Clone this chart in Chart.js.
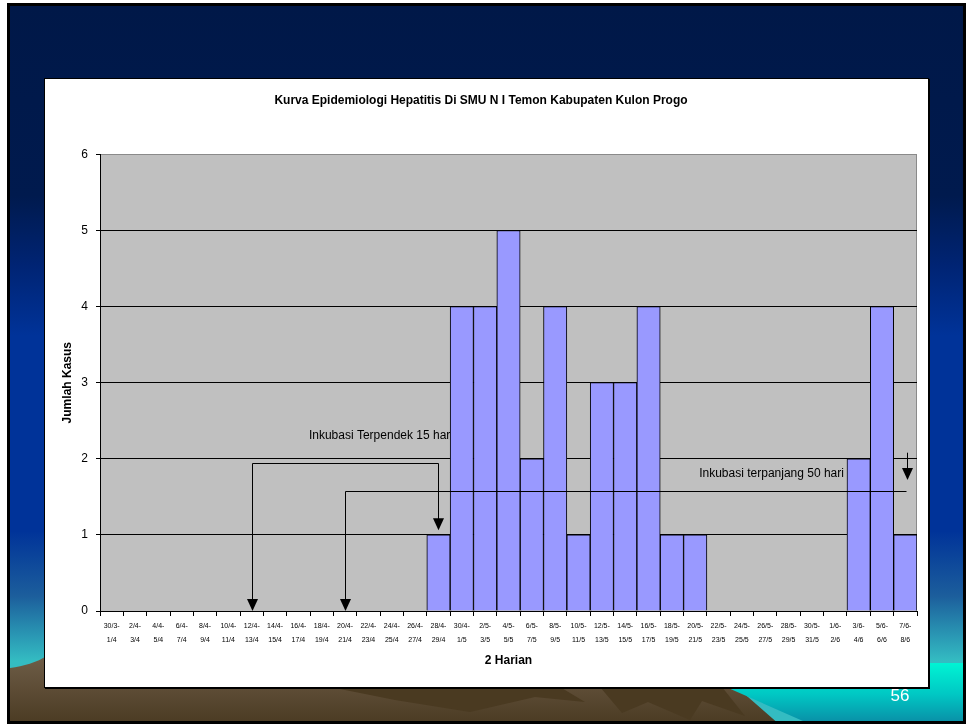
<!DOCTYPE html>
<html>
<head>
<meta charset="utf-8">
<script src="https://cdn.jsdelivr.net/npm/chart.js@4.4.0/dist/chart.umd.min.js"></script>
<style>
  html, body { margin: 0; padding: 0; background: #fff; width: 969px; height: 725px; overflow: hidden; }
  #slide {
    position: absolute; left: 7px; top: 3px; width: 959px; height: 721px;
    box-sizing: border-box; border: 3px solid #000; overflow: hidden;
    background: linear-gradient(to bottom,
      #001848 0px, #001a4e 190px, #002474 260px, #003399 330px,
      #003399 525px, #1c5e9c 590px, #2a98b4 630px, #34bcc2 655px);
  }
  #deco { position: absolute; left: -10px; top: -6px; }
  #box {
    position: absolute; left: 44px; top: 78px; width: 883px; height: 608px;
    background: #fff; border: 1px solid #000; box-shadow: 1px 1px 0 #000;
  }
  #wrap { position: absolute; left: 0; top: 0; width: 882px; height: 608px; }
  #pageno {
    position: absolute; left: 885px; top: 686px; width: 30px; text-align: center;
    color: #fff; font: 17px "Liberation Sans Narrow", "Liberation Sans", Arial, sans-serif;
  }
</style>
</head>
<body>
<div id="slide">
  <svg id="deco" width="969" height="725" xmlns="http://www.w3.org/2000/svg">
    <defs>
      <linearGradient id="soil" x1="0" y1="0" x2="0" y2="1">
        <stop offset="0" stop-color="#6f5e48"/>
        <stop offset="1" stop-color="#4a3a22"/>
      </linearGradient>
      <linearGradient id="sea" x1="0" y1="0" x2="0" y2="1">
        <stop offset="0" stop-color="#00f4d4"/>
        <stop offset="0.5" stop-color="#00c8c4"/>
        <stop offset="1" stop-color="#0a8aa4"/>
      </linearGradient>
    </defs>
    <path d="M10,668 C24,666 36,663 48,655 L700,655 L780,725 L10,725 Z" fill="url(#soil)"/>
    <path d="M330,687 L560,687 L585,702 L535,697 L470,712 L395,700 Z" fill="#4a3a21"/>
    <path d="M600,687 L722,687 L745,716 L702,701 L690,720 L648,702 L622,713 Z" fill="#4a3a21"/>
    <path d="M700,663 L966,663 L966,725 L812,725 L726,687 Z" fill="url(#sea)"/>
  </svg>
</div>
<div id="box"><div id="wrap"><canvas id="chart"></canvas></div></div>
<div id="pageno">56</div>

<script>
// Two-day reporting periods
const categories = [
  ["30/3-", "1/4"], ["2/4-", "3/4"], ["4/4-", "5/4"], ["6/4-", "7/4"], ["8/4-", "9/4"],
  ["10/4-", "11/4"], ["12/4-", "13/4"], ["14/4-", "15/4"], ["16/4-", "17/4"], ["18/4-", "19/4"],
  ["20/4-", "21/4"], ["22/4-", "23/4"], ["24/4-", "25/4"], ["26/4-", "27/4"], ["28/4-", "29/4"],
  ["30/4-", "1/5"], ["2/5-", "3/5"], ["4/5-", "5/5"], ["6/5-", "7/5"], ["8/5-", "9/5"],
  ["10/5-", "11/5"], ["12/5-", "13/5"], ["14/5-", "15/5"], ["16/5-", "17/5"], ["18/5-", "19/5"],
  ["20/5-", "21/5"], ["22/5-", "23/5"], ["24/5-", "25/5"], ["26/5-", "27/5"], ["28/5-", "29/5"],
  ["30/5-", "31/5"], ["1/6-", "2/6"], ["3/6-", "4/6"], ["5/6-", "6/6"], ["7/6-", "8/6"]
];

// Number of hepatitis cases per period
const cases = [
  0, 0, 0, 0, 0, 0, 0, 0, 0, 0, 0, 0, 0, 0,
  1, 4, 4, 5, 2, 4, 1, 3, 3, 4, 1, 1,
  0, 0, 0, 0, 0, 0,
  2, 4, 1
];

const yTicks = [0, 1, 2, 3, 4, 5, 6];

// Incubation-period brackets, in category index / case-count units
const shortestIncubation = { text: "Inkubasi Terpendek 15 hari", textAt: [8.45, 2.31], from: 6, to: 14, level: 1.94, toTip: 1.06 };
const longestIncubation = { text: "Inkubasi terpanjang 50 hari", textAt: [31.37, 1.81], from: 10, to: 34.05, level: 1.58, markerTop: 2.08, markerTip: 1.72 };

const FONT = '"Liberation Sans Narrow", "Liberation Sans", Arial, sans-serif';

function arrowDown(ctx, x, tipY) {
  ctx.beginPath();
  ctx.moveTo(x, tipY);
  ctx.lineTo(x - 5.5, tipY - 12);
  ctx.lineTo(x + 5.5, tipY - 12);
  ctx.closePath();
  ctx.fill();
}

const plotFrame = {
  id: 'plotFrame',
  beforeDatasetsDraw(chart) {
    const { ctx, chartArea: a, scales: { x, y } } = chart;
    ctx.save();
    // labels sit behind the bars
    ctx.fillStyle = '#000';
    ctx.font = '12px ' + FONT;
    ctx.textBaseline = 'middle';
    ctx.textAlign = 'left';
    ctx.fillText(shortestIncubation.text, x.getPixelForValue(shortestIncubation.textAt[0]), y.getPixelForValue(shortestIncubation.textAt[1]));
    ctx.textAlign = 'right';
    ctx.fillText(longestIncubation.text, x.getPixelForValue(longestIncubation.textAt[0]), y.getPixelForValue(longestIncubation.textAt[1]));
    ctx.restore();
  },
  beforeDraw(chart) {
    const { ctx, chartArea: a } = chart;
    ctx.save();
    ctx.fillStyle = '#c0c0c0';
    ctx.fillRect(a.left, a.top, a.right - a.left, a.bottom - a.top);
    ctx.strokeStyle = '#8a8a8a';
    ctx.lineWidth = 1;
    ctx.beginPath();
    ctx.moveTo(Math.round(a.right) - 0.5, a.top);
    ctx.lineTo(Math.round(a.right) - 0.5, a.bottom);
    ctx.stroke();
    ctx.restore();
  },
  afterDatasetsDraw(chart) {
    const { ctx, scales: { x, y } } = chart;
    const px = v => Math.round(x.getPixelForValue(v)) + 0.5;
    const py = v => Math.round(y.getPixelForValue(v)) + 0.5;
    ctx.save();
    ctx.strokeStyle = '#000';
    ctx.fillStyle = '#000';
    ctx.lineWidth = 1;

    // shortest incubation bracket
    const s = shortestIncubation;
    ctx.beginPath();
    ctx.moveTo(px(s.from), y.getPixelForValue(0) - 10);
    ctx.lineTo(px(s.from), py(s.level));
    ctx.lineTo(px(s.to), py(s.level));
    ctx.lineTo(px(s.to), y.getPixelForValue(s.toTip) - 10);
    ctx.stroke();
    arrowDown(ctx, px(s.from), y.getPixelForValue(0));
    arrowDown(ctx, px(s.to), y.getPixelForValue(s.toTip));

    // longest incubation bracket
    const l = longestIncubation;
    ctx.beginPath();
    ctx.moveTo(px(l.from), y.getPixelForValue(0) - 10);
    ctx.lineTo(px(l.from), py(l.level));
    ctx.lineTo(px(l.to), py(l.level));
    ctx.stroke();
    arrowDown(ctx, px(l.from), y.getPixelForValue(0));
    ctx.beginPath();
    ctx.moveTo(px(l.to + 0.04), y.getPixelForValue(l.markerTop));
    ctx.lineTo(px(l.to + 0.04), y.getPixelForValue(l.markerTip) - 10);
    ctx.stroke();
    arrowDown(ctx, px(l.to + 0.04), y.getPixelForValue(l.markerTip));
    ctx.restore();
  }
};

new Chart(document.getElementById('chart'), {
  type: 'bar',
  data: {
    labels: categories,
    datasets: [{
      data: cases,
      backgroundColor: '#9999ff',
      borderColor: '#000',
      borderWidth: 1,
      borderSkipped: 'bottom',
      barPercentage: 1,
      categoryPercentage: 1
    }]
  },
  options: {
    responsive: true,
    maintainAspectRatio: false,
    animation: false,
    devicePixelRatio: 1,
    layout: { padding: { left: 0, right: 10, top: 0, bottom: 0 } },
    plugins: {
      legend: { display: false },
      tooltip: { enabled: false },
      title: {
        display: true,
        text: 'Kurva Epidemiologi Hepatitis Di SMU N I Temon Kabupaten Kulon Progo',
        color: '#000',
        font: { family: FONT, size: 12, weight: 'bold', lineHeight: 1.2 },
        padding: { top: 14, bottom: 47 }
      }
    },
    scales: {
      x: {
        grid: { display: true, drawOnChartArea: false, offset: true, color: '#000', tickLength: 5, lineWidth: 1 },
        border: { color: '#000', width: 1 },
        ticks: {
          autoSkip: false, maxRotation: 0, minRotation: 0, padding: 3,
          color: '#000', font: { family: FONT, size: 7, lineHeight: 2 }
        },
        title: {
          display: true, text: '2 Harian', color: '#000',
          font: { family: FONT, size: 12, weight: 'bold', lineHeight: 1.2 },
          padding: { top: 19, bottom: 19 }
        },
        afterFit(scale) { scale.height = 76; }
      },
      y: {
        min: 0, max: 6,
        afterBuildTicks(scale) { scale.ticks = yTicks.map(v => ({ value: v })); },
        grid: {
          color: ctx => (ctx.tick && ctx.tick.value === 6) ? '#8a8a8a' : '#000',
          tickColor: '#000', tickLength: 4, lineWidth: 1
        },
        border: { color: '#000', width: 1 },
        ticks: { padding: 8, color: '#000', font: { family: FONT, size: 12 } },
        title: {
          display: true, text: 'Jumlah Kasus', color: '#000',
          font: { family: FONT, size: 12, weight: 'bold', lineHeight: 1.2 },
          padding: { top: 15, bottom: 15 }
        },
        afterFit(scale) { scale.width = 55; }
      }
    }
  },
  plugins: [plotFrame]
});
</script>
</body>
</html>
